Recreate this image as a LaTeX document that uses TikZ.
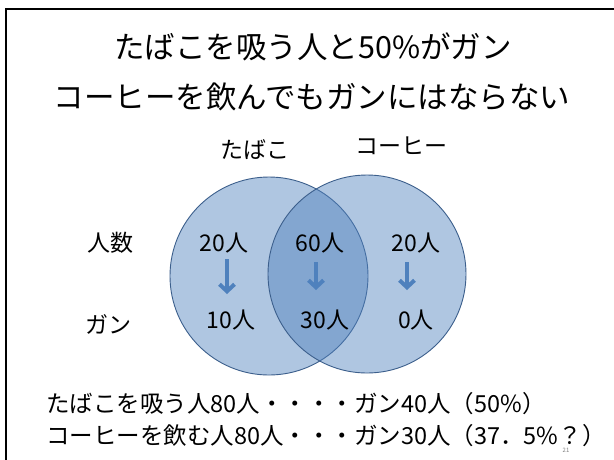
\documentclass[tikz,border=0pt]{standalone}
\usepackage{fontspec}
\setmainfont{Noto Sans CJK JP}
\usetikzlibrary{arrows.meta}
\definecolor{vennfill}{RGB}{79,129,189}
\definecolor{vennline}{RGB}{60,95,140}
\definecolor{arrowblue}{RGB}{79,129,189}
\tikzset{
  venn/.style={circle, draw=vennline, line width=0.9pt, fill=vennfill, fill opacity=0.45, minimum size=198pt, inner sep=0pt},
  titletext/.style={font=\fontsize{30.5}{34}\selectfont, inner sep=0pt},
  lbl/.style={font=\fontsize{23}{26}\selectfont, inner sep=0pt},
  bottomtext/.style={font=\fontsize{23.5}{27}\selectfont, inner sep=0pt, anchor=west},
  downarrow/.style={draw=arrowblue, line width=4pt, -{Straight Barb[length=7pt,width=15pt]}},
}
\begin{document}
\begin{tikzpicture}[x=1pt,y=-1pt]
\useasboundingbox (0,0) rectangle (614,459);
\fill[white] (0,0) rectangle (614,459);
% frame
\draw[line width=2pt] (6,470) -- (6,9) -- (620,9);
% title
\node[titletext] (t1) at (313,47) {たばこを吸う人と50\%がガン};
\node[titletext] (t2) at (312,97) {コーヒーを飲んでもガンにはならない};
% venn
\node[venn] (L) at (269,276) {};
\node[venn] (R) at (367,274) {};
\node[lbl] (tabako) at (255,150) {たばこ};
\node[lbl] (coffee) at (401,146) {コーヒー};
\node[lbl] (ninzu) at (110,243) {人数};
\node[lbl] (gan) at (108,324) {ガン};
\node[lbl] (a1) at (224,243) {20人};
\node[lbl] (b1) at (320,243) {60人};
\node[lbl] (c1) at (416,243) {20人};
\node[lbl] (a2) at (231,320) {10人};
\node[lbl] (b2) at (325,320) {30人};
\node[lbl] (c2) at (416,320) {0人};
\coordinate (a1s) at (227,259);
\coordinate (a1e) at (227,294);
\coordinate (b1s) at (316,262);
\coordinate (b1e) at (316,290);
\coordinate (c1s) at (407,262);
\coordinate (c1e) at (407,290);
\draw[downarrow] (a1s) -- (a1e);
\draw[downarrow] (b1s) -- (b1e);
\draw[downarrow] (c1s) -- (c1e);
% bottom text
\node[bottomtext] (s1) at (46,404) {たばこを吸う人80人・・・・ガン40人（50\%）};
\node[bottomtext] (s2) at (46,436) {コーヒーを飲む人80人・・・ガン30人（37．5\%？）};
\node[font=\fontsize{6}{7}\selectfont, text=gray, inner sep=0pt] (pg) at (566,450) {21};
\end{tikzpicture}
\end{document}
